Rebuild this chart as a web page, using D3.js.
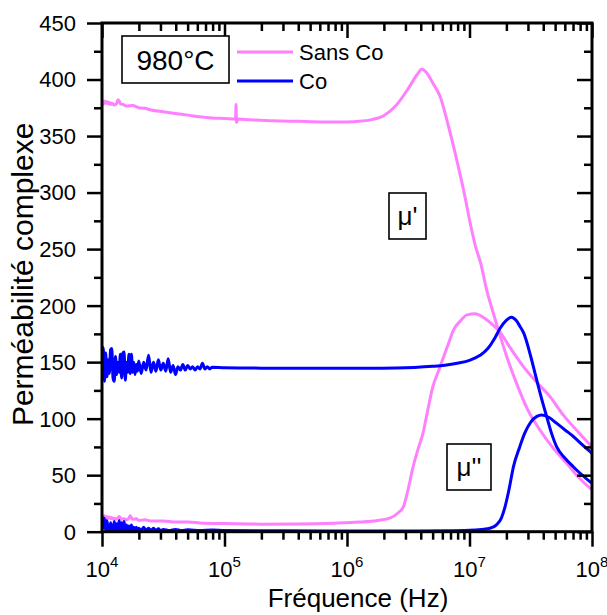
<!DOCTYPE html>
<html><head><meta charset="utf-8">
<script src="https://cdn.jsdelivr.net/npm/d3@7/dist/d3.min.js"></script>
<style>body{margin:0;background:#fff}svg{display:block}text{font-family:"Liberation Sans",Arial,sans-serif;fill:#000}</style>
</head><body><svg id="c" width="607" height="615"></svg>
<script>
// ---- data (log10 of frequency in Hz, permeability) ----
const sansCoRealLogF = [4.00,4.01,4.02,4.03,4.04,4.05,4.06,4.07,4.08,4.10,4.12,4.13,4.14,4.15,4.17,4.20,4.25,4.30,4.35,4.40,4.50,4.60,4.70,4.80,4.90,5.00,5.09,5.094,5.098,5.11,5.20,5.40,5.60,5.80,6.00,6.10,6.20,6.30,6.40,6.50,6.57,6.61,6.65,6.70,6.76,6.83,6.90,6.96,7.00,7.05,7.09,7.14,7.19,7.235,7.31,7.385,7.475,7.575,7.69,7.793,7.90,8.00];
const sansCoReal = [380,378,381,379,380.5,378.5,380,378,379,377.5,379,382,381,378.5,378,376.5,377,375,374.5,373,371.5,370,368.5,367,366,365.5,365,378,362,365,364.5,363.5,363,362.5,362.5,363,364.5,368,377,392,404,409,406,397,385,358,327,298,276,252,238,214,195,178.5,153,131,108,90,73,60.5,47,37];

const sansCoImagLogF = [4.00,4.01,4.02,4.03,4.04,4.05,4.06,4.07,4.08,4.09,4.10,4.12,4.14,4.16,4.18,4.20,4.22,4.23,4.25,4.28,4.30,4.35,4.40,4.50,4.60,4.70,4.80,5.00,5.30,5.60,5.90,6.10,6.25,6.35,6.42,6.46,6.50,6.54,6.58,6.62,6.66,6.70,6.75,6.79,6.83,6.87,6.93,6.98,7.045,7.12,7.20,7.235,7.33,7.44,7.55,7.657,7.76,7.88,8.00];
const sansCoImag = [15,12.5,14,12,13.5,12,13,11.5,12.5,11,12,11,13.5,11,11.5,10.5,12,14,11,11.5,10,10.5,9.5,9.5,8.5,8.5,7.8,7.2,6.7,6.8,7.5,8.5,10,12,17,22,38,57.5,73,87,108,128,143,155,167,178.5,187,191.8,192.7,189,182,178.5,163,146,132,119.5,104,89,75];

const coRealLogF = [4.00,4.01,4.02,4.03,4.04,4.05,4.06,4.07,4.08,4.09,4.10,4.11,4.12,4.13,4.14,4.15,4.16,4.17,4.18,4.19,4.20,4.21,4.22,4.23,4.24,4.25,4.26,4.27,4.28,4.29,4.30,4.32,4.34,4.36,4.38,4.40,4.42,4.44,4.46,4.48,4.50,4.52,4.54,4.56,4.58,4.60,4.62,4.64,4.66,4.68,4.70,4.72,4.74,4.76,4.78,4.80,4.82,4.84,4.86,4.88,4.90,5.00,5.20,5.50,5.80,6.00,6.20,6.40,6.55,6.70,6.80,6.90,7.00,7.086,7.15,7.20,7.25,7.30,7.343,7.38,7.41,7.443,7.50,7.549,7.59,7.63,7.67,7.712,7.78,7.847,7.92,8.00];
const coReal = [150,163,133,158,137,152,140,161,162,136,133,155,139,150,141,157,136,158,159,134,150,141,157,140,157,141,150,139,148,142,151,140,150,143,156,141,150,142,152,143,149,142,153,141,147,139,146,143,148,143,147,144,146,143,146,144,149,144,146,144,145.5,145,144.8,144.5,144.5,144.5,144.6,144.8,145.3,146.3,147.3,149,151.5,156,162,170,180,187,189.8,187,182,175.6,155,134,117,101.8,87,75,65,57.5,50,42.8];

const coImagLogF = [4.00,4.01,4.02,4.03,4.04,4.05,4.06,4.07,4.08,4.09,4.10,4.11,4.12,4.13,4.14,4.15,4.16,4.17,4.18,4.19,4.20,4.21,4.22,4.23,4.24,4.25,4.26,4.27,4.28,4.29,4.30,4.32,4.34,4.36,4.38,4.40,4.42,4.44,4.46,4.48,4.50,4.55,4.60,4.65,4.70,4.80,4.90,5.00,5.50,6.00,6.50,6.80,7.00,7.10,7.167,7.22,7.26,7.29,7.32,7.36,7.41,7.45,7.50,7.55,7.59,7.65,7.71,7.78,7.85,7.92,8.00];
const coImag = [14,3,12,1,10,2,0,8,1,0,9,1,7,0,10,2,8,1,9,2,6,1,5,1,6,1,4,0.5,4,1,3,1,4,1,3,1,3,1,2.5,1,2,1,2,1,1.8,1,1.5,1,0.8,0.6,0.7,0.8,1.2,2,3,6,12,22,36,58,75,87,97,102,103.3,101,96,90,84,77,69.4];

const yTicks = [0,50,100,150,200,250,300,350,400,450];
const xDecades = [4,5,6,7,8];
const seriesNames = ["Sans Co","Co"];
const seriesColors = ["#ff80ff","#0000ff"];

// ---- layout ----
const W=607,H=615, L=102, R=592, T=23, B=531.7;
const svg=d3.select("#c");
const x=d3.scaleLog().domain([1e4,1e8]).range([L,R]);
const y=d3.scaleLinear().domain([0,450]).range([B,T]);

svg.append("defs").append("clipPath").attr("id","clip").append("rect")
  .attr("x",L).attr("y",T).attr("width",R-L).attr("height",B-T);

const line=d3.line().x(d=>x(Math.pow(10,d[0]))).y(d=>y(d[1])).curve(d3.curveMonotoneX);
const gLines=svg.append("g").attr("clip-path","url(#clip)");
function draw(lf,vals,color){
  gLines.append("path").datum(lf.map((f,i)=>[f,vals[i]]))
    .attr("d",line).attr("fill","none").attr("stroke",color).attr("stroke-width",3)
    .attr("stroke-linejoin","round");
}
draw(sansCoRealLogF,sansCoReal,seriesColors[0]);
draw(sansCoImagLogF,sansCoImag,seriesColors[0]);
draw(coRealLogF,coReal,seriesColors[1]);
draw(coImagLogF,coImag,seriesColors[1]);

// ---- axes ----
const minorY=d3.range(25,450,50);
const majorX=xDecades.map(e=>Math.pow(10,e));
const minorX=[];
xDecades.slice(0,-1).forEach(e=>{for(let k=2;k<10;k++)minorX.push(k*Math.pow(10,e));});

function styleAxis(g){g.select(".domain").remove();g.selectAll("line").attr("stroke","#000").attr("stroke-width",2.5);g.selectAll("text").remove();}

svg.append("g").attr("transform",`translate(${L},0)`).call(d3.axisLeft(y).tickValues(yTicks).tickSize(15)).call(styleAxis);
svg.append("g").attr("transform",`translate(${L},0)`).call(d3.axisLeft(y).tickValues(minorY).tickSize(8)).call(styleAxis);
svg.append("g").attr("transform",`translate(${R},0)`).call(d3.axisLeft(y).tickValues(yTicks).tickSize(15)).call(styleAxis);
svg.append("g").attr("transform",`translate(${R},0)`).call(d3.axisLeft(y).tickValues(minorY).tickSize(8)).call(styleAxis);
svg.append("g").attr("transform",`translate(0,${B})`).call(d3.axisBottom(x).tickValues(majorX).tickSize(15)).call(styleAxis);
svg.append("g").attr("transform",`translate(0,${B})`).call(d3.axisBottom(x).tickValues(minorX).tickSize(8)).call(styleAxis);
svg.append("g").attr("transform",`translate(0,${T})`).call(d3.axisBottom(x).tickValues(majorX).tickSize(15)).call(styleAxis);
svg.append("g").attr("transform",`translate(0,${T})`).call(d3.axisBottom(x).tickValues(minorX).tickSize(8)).call(styleAxis);

svg.append("rect").attr("x",L).attr("y",T).attr("width",R-L).attr("height",B-T)
  .attr("fill","none").attr("stroke","#000").attr("stroke-width",3);

// tick labels
svg.append("g").selectAll("text").data(yTicks).join("text")
  .attr("x",76).attr("y",d=>y(d)).attr("dy","0.36em").attr("text-anchor","end")
  .attr("font-size",22).text(d=>d);
const xl=svg.append("g").selectAll("text").data(xDecades).join("text")
  .attr("x",d=>x(Math.pow(10,d))).attr("y",577).attr("text-anchor","middle").attr("font-size",22);
xl.append("tspan").text("10");
xl.append("tspan").attr("dy",-10).attr("font-size",15).text(d=>d);

// axis titles
svg.append("text").attr("transform",`translate(33,${(T+B)/2-3}) rotate(-90)`).attr("text-anchor","middle")
  .attr("font-size",30).text("Perméabilité complexe");
svg.append("text").attr("x",358).attr("y",607).attr("text-anchor","middle")
  .attr("font-size",26).text("Fréquence (Hz)");

// annotation boxes
function box(x0,y0,w,h,label,fs){
  svg.append("rect").attr("x",x0).attr("y",y0).attr("width",w).attr("height",h)
    .attr("fill","#fff").attr("stroke","#000").attr("stroke-width",1.6);
  svg.append("text").attr("x",x0+w/2).attr("y",y0+h/2).attr("dy","0.36em").attr("text-anchor","middle")
    .attr("font-size",fs).text(label);
}
box(122,36,107,47,"980°C",28);
box(389,193,37,46,"μ'",26);
box(447,444,44,46,"μ''",26);

// legend
seriesNames.forEach((n,i)=>{
  const ly=52+i*29;
  svg.append("line").attr("x1",237).attr("x2",293).attr("y1",ly).attr("y2",ly)
    .attr("stroke",seriesColors[i]).attr("stroke-width",2.8);
  svg.append("text").attr("x",299).attr("y",ly).attr("dy","0.36em").attr("font-size",22).text(n);
});
</script></body></html>
